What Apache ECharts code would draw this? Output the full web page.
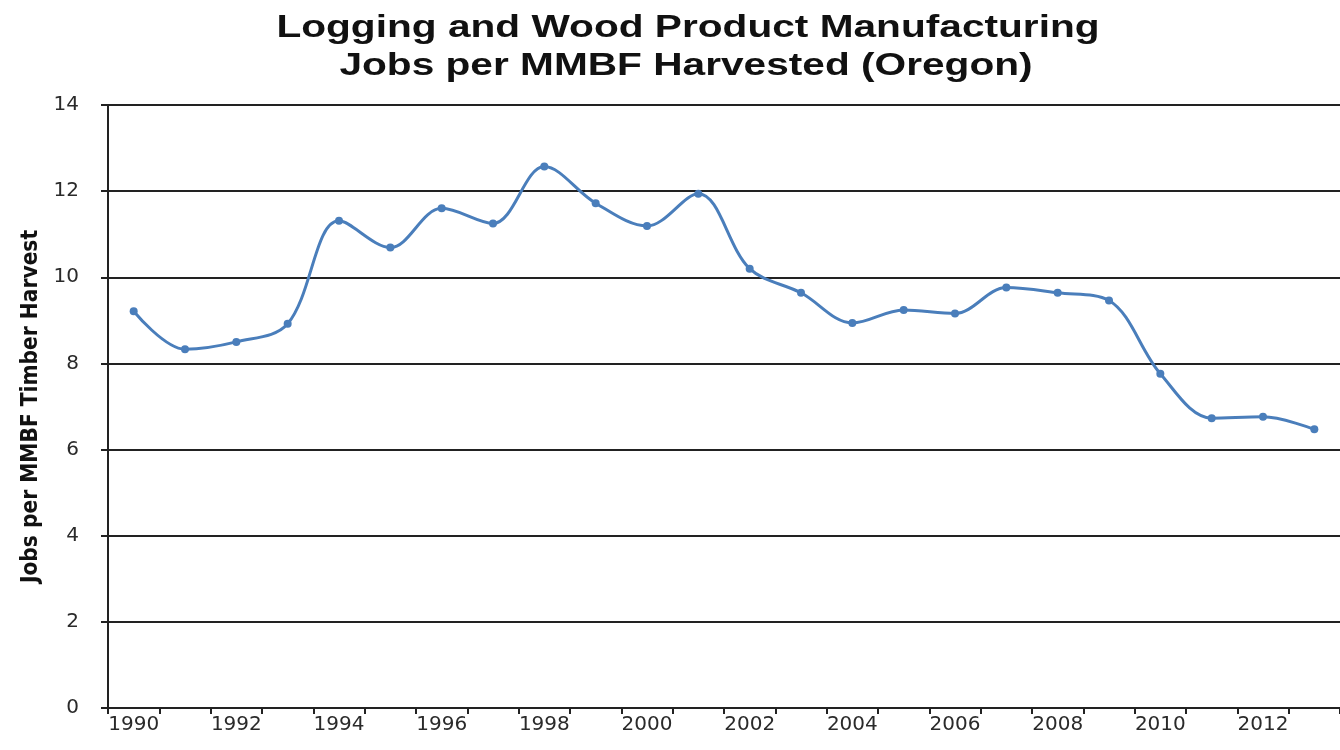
<!DOCTYPE html>
<html>
<head>
<meta charset="utf-8">
<script src="https://cdn.jsdelivr.net/npm/echarts@6/dist/echarts.min.js"></script>
<style>
html,body{margin:0;padding:0;background:#fff;}
#main{width:1340px;height:750px;}
</style>
</head>
<body>
<div id="main"></div>
<script>
const years = ['1990','1991','1992','1993','1994','1995','1996','1997','1998','1999','2000','2001','2002','2003','2004','2005','2006','2007','2008','2009','2010','2011','2012','2013'];
const jobsPerMMBF = [9.21, 8.33, 8.50, 8.92, 11.31, 10.69, 11.60, 11.25, 12.57, 11.72, 11.19, 11.94, 10.20, 9.64, 8.94, 9.24, 9.16, 9.76, 9.64, 9.46, 7.76, 6.73, 6.76, 6.47];
const titleLines = ['Logging and Wood Product Manufacturing', 'Jobs per MMBF Harvested (Oregon)'];
const yAxisName = 'Jobs per MMBF Timber Harvest';

const narrow = '"DejaVu Sans Condensed","Liberation Sans",sans-serif';
const tickFont = '"DejaVu Sans","Liberation Sans",sans-serif';
const titleFont = 'bold 32px "Liberation Sans", Arial, sans-serif';
const chart = echarts.init(document.getElementById('main'));
chart.setOption({
  animation: false,
  backgroundColor: '#ffffff',
  graphic: [
    { type: 'text', x: 688, y: 28, scaleX: 1.27, silent: true,
      style: { text: titleLines[0], font: titleFont, fill: '#111', align: 'center', verticalAlign: 'middle' } },
    { type: 'text', x: 686, y: 66, scaleX: 1.27, silent: true,
      style: { text: titleLines[1], font: titleFont, fill: '#111', align: 'center', verticalAlign: 'middle' } }
  ],
  grid: { left: 108, top: 105, width: 1250, height: 603, containLabel: false },
  xAxis: {
    type: 'category',
    data: years,
    boundaryGap: true,
    axisLine: { lineStyle: { color: '#222', width: 2 } },
    axisTick: { show: true, alignWithLabel: false, interval: 0, length: 6, lineStyle: { color: '#222', width: 2 } },
    axisLabel: { interval: 1, margin: 7, fontFamily: tickFont, fontSize: 20, color: '#2a2a2a' },
    splitLine: { show: false }
  },
  yAxis: {
    type: 'value',
    min: 0, max: 14, interval: 2,
    name: yAxisName,
    nameLocation: 'middle',
    nameGap: 62,
    nameTextStyle: { fontFamily: narrow, fontWeight: 'bold', fontSize: 22.5, color: '#111' },
    axisLine: { show: true, lineStyle: { color: '#222', width: 2 } },
    axisTick: { show: true, length: 7, lineStyle: { color: '#222', width: 2 } },
    axisLabel: { margin: 29, fontFamily: tickFont, fontSize: 20, color: '#2a2a2a' },
    splitLine: { show: true, lineStyle: { color: '#222', width: 2 } }
  },
  series: [{
    type: 'line',
    data: jobsPerMMBF,
    smooth: 0.35,
    symbol: 'circle',
    symbolSize: 8,
    lineStyle: { color: '#4a7ebb', width: 3 },
    itemStyle: { color: '#4a7ebb' }
  }]
});
</script>
</body>
</html>
